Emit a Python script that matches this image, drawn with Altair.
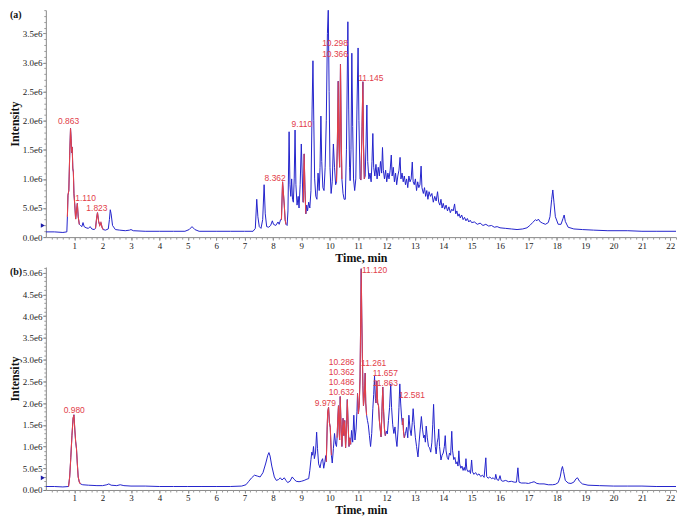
import altair as alt
import pandas as pd

# ---------------- data ----------------
# (time in min, intensity in units of 1e6 counts)
trace_a = [
    (0.00, 0.09), (0.30, 0.09), (0.60, 0.08), (0.74, 0.09),
    (0.76, 0.35), (0.78, 0.72), (0.81, 0.80), (0.84, 1.40), (0.87, 1.87), (0.89, 1.70),
    (0.91, 1.45), (0.93, 1.55), (0.95, 1.18), (0.97, 1.12), (0.99, 0.75), (1.02, 0.55),
    (1.05, 0.31), (1.08, 0.45), (1.11, 0.58), (1.14, 0.35), (1.18, 0.22),
    (1.22, 0.20), (1.27, 0.18), (1.31, 0.25), (1.35, 0.18), (1.42, 0.16), (1.50, 0.15),
    (1.56, 0.18), (1.62, 0.14), (1.70, 0.13),
    (1.75, 0.15), (1.79, 0.33), (1.82, 0.42), (1.86, 0.27), (1.90, 0.20), (1.94, 0.25),
    (1.98, 0.17), (2.02, 0.13),
    (2.10, 0.12), (2.20, 0.14), (2.24, 0.30), (2.27, 0.47), (2.30, 0.40), (2.35, 0.20),
    (2.45, 0.13), (2.60, 0.12), (2.80, 0.11), (2.95, 0.12), (3.00, 0.13), (3.08, 0.11),
    (3.50, 0.10), (4.00, 0.10), (4.50, 0.10), (4.90, 0.10), (5.05, 0.13), (5.15, 0.18),
    (5.25, 0.13), (5.40, 0.10), (6.00, 0.10), (6.50, 0.10), (7.00, 0.10), (7.30, 0.10),
    (7.38, 0.15), (7.43, 0.65), (7.47, 0.35), (7.52, 0.18), (7.58, 0.15), (7.64, 0.30),
    (7.69, 0.90), (7.73, 0.40), (7.78, 0.18), (7.85, 0.17), (7.92, 0.20), (7.98, 0.28),
    (8.02, 0.22), (8.10, 0.20), (8.18, 0.26), (8.22, 0.22), (8.27, 0.30),
    (8.30, 0.30), (8.34, 0.95), (8.37, 0.75), (8.40, 0.55), (8.43, 0.30), (8.46, 0.22),
    (8.50, 0.20), (8.53, 0.45), (8.57, 1.81), (8.60, 0.90), (8.63, 0.70), (8.66, 1.00),
    (8.69, 0.65), (8.72, 0.60), (8.75, 1.00), (8.78, 1.84), (8.81, 0.90), (8.85, 0.55),
    (8.89, 0.70), (8.92, 0.50), (8.96, 0.90), (9.00, 1.60), (9.03, 1.10), (9.06, 0.60),
    (9.07, 0.60), (9.10, 1.43), (9.13, 0.80), (9.16, 0.40),
    (9.19, 0.55), (9.22, 0.45), (9.26, 0.60), (9.30, 0.50), (9.34, 0.80), (9.38, 2.20),
    (9.41, 3.03), (9.44, 2.00), (9.47, 1.00), (9.51, 0.70), (9.55, 0.65), (9.59, 1.10),
    (9.63, 0.80), (9.66, 1.20), (9.69, 2.08), (9.72, 1.30), (9.76, 0.85), (9.80, 0.80),
    (9.84, 1.20), (9.88, 2.00), (9.92, 3.50), (9.95, 3.92), (9.98, 2.50), (10.01, 1.20),
    (10.05, 0.75), (10.09, 0.95), (10.13, 1.60), (10.17, 1.20), (10.21, 0.90),
    (10.24, 0.95), (10.27, 1.60), (10.30, 2.68), (10.32, 1.70), (10.35, 1.20), (10.38, 2.97),
    (10.41, 1.60), (10.43, 1.00),
    (10.47, 0.75), (10.51, 0.65), (10.55, 0.65), (10.59, 1.50), (10.64, 3.70), (10.67, 2.20),
    (10.70, 1.20), (10.72, 0.97), (10.75, 1.50), (10.78, 3.16), (10.81, 1.90), (10.84, 1.00),
    (10.88, 0.80), (10.92, 1.00), (10.96, 2.20), (11.00, 3.25), (11.03, 2.00), (11.07, 1.00),
    (11.10, 0.98), (11.14, 1.90), (11.17, 2.67), (11.19, 1.60), (11.22, 1.00),
    (11.25, 1.05), (11.28, 1.60), (11.31, 2.27), (11.34, 1.30), (11.38, 1.00), (11.42, 1.10),
    (11.46, 0.95), (11.49, 1.30), (11.52, 1.78), (11.55, 1.20), (11.59, 1.05), (11.63, 1.25),
    (11.67, 1.00), (11.71, 1.20), (11.75, 1.05), (11.79, 1.30), (11.83, 1.10), (11.86, 1.54),
    (11.89, 1.15), (11.93, 1.00), (11.97, 1.15), (12.01, 0.95), (12.05, 1.10), (12.09, 1.00),
    (12.13, 1.15), (12.17, 1.41), (12.20, 1.05), (12.24, 1.20), (12.28, 0.95), (12.32, 1.10),
    (12.36, 0.90), (12.40, 1.05), (12.44, 1.15), (12.48, 1.37), (12.51, 1.00), (12.55, 1.10),
    (12.59, 0.95), (12.63, 1.05), (12.67, 0.90), (12.71, 1.00), (12.75, 0.85), (12.79, 1.05),
    (12.83, 0.95), (12.87, 1.00), (12.91, 1.29), (12.94, 0.95), (12.98, 0.90), (13.02, 1.00),
    (13.06, 0.80), (13.10, 0.95), (13.14, 0.85), (13.18, 0.90), (13.22, 1.22), (13.25, 0.85),
    (13.30, 0.75), (13.34, 0.85), (13.38, 0.70), (13.42, 0.80), (13.46, 0.65), (13.50, 0.78),
    (13.55, 0.70), (13.60, 0.75), (13.65, 0.60), (13.70, 0.70), (13.75, 0.62), (13.80, 0.78),
    (13.84, 0.60), (13.88, 0.55), (13.92, 0.65), (13.96, 0.50), (14.00, 0.58), (14.05, 0.48),
    (14.10, 0.55), (14.15, 0.45), (14.20, 0.52), (14.25, 0.42), (14.30, 0.48), (14.35, 0.45),
    (14.40, 0.57), (14.44, 0.40), (14.48, 0.45), (14.52, 0.36), (14.56, 0.40), (14.60, 0.33),
    (14.65, 0.38), (14.70, 0.30), (14.75, 0.34), (14.80, 0.28), (14.85, 0.32), (14.90, 0.26),
    (14.95, 0.29), (15.00, 0.25), (15.10, 0.26), (15.20, 0.22), (15.30, 0.24), (15.40, 0.20),
    (15.50, 0.22), (15.60, 0.19), (15.70, 0.20), (15.80, 0.17), (15.90, 0.18), (16.00, 0.16),
    (16.20, 0.15), (16.40, 0.14), (16.60, 0.13), (16.80, 0.14), (16.95, 0.16), (17.05, 0.20),
    (17.15, 0.25), (17.25, 0.30), (17.30, 0.28), (17.35, 0.31), (17.42, 0.26), (17.50, 0.24),
    (17.60, 0.22), (17.70, 0.25), (17.76, 0.35), (17.82, 0.65), (17.86, 0.81), (17.90, 0.60),
    (17.95, 0.35), (18.05, 0.22), (18.15, 0.22), (18.22, 0.32), (18.26, 0.38), (18.30, 0.27),
    (18.40, 0.17), (18.60, 0.14), (18.90, 0.13), (19.30, 0.12), (19.80, 0.11), (20.50, 0.11),
    (21.00, 0.10), (21.50, 0.10), (22.20, 0.10),
]

trace_b = [
    (0.00, 0.08), (0.30, 0.08), (0.60, 0.07), (0.80, 0.08),
    (0.84, 0.30), (0.88, 0.75), (0.92, 1.25), (0.96, 1.65), (0.99, 1.73), (1.02, 1.40),
    (1.05, 1.12), (1.08, 0.95), (1.11, 0.60), (1.14, 0.30), (1.18, 0.18), (1.22, 0.14),
    (1.30, 0.12), (1.50, 0.11), (1.80, 0.10), (2.00, 0.10), (2.15, 0.12), (2.22, 0.14),
    (2.30, 0.11), (2.50, 0.10), (2.62, 0.12), (2.75, 0.10), (3.00, 0.09), (3.50, 0.09),
    (4.00, 0.08), (4.50, 0.08), (5.00, 0.08), (5.50, 0.08), (6.00, 0.08), (6.50, 0.08),
    (6.90, 0.09), (7.05, 0.12), (7.15, 0.20), (7.25, 0.28), (7.35, 0.34), (7.45, 0.32),
    (7.55, 0.30), (7.65, 0.40), (7.75, 0.62), (7.82, 0.80), (7.86, 0.86), (7.90, 0.78),
    (7.96, 0.55), (8.05, 0.30), (8.12, 0.22), (8.20, 0.24), (8.26, 0.28), (8.32, 0.23),
    (8.40, 0.28), (8.46, 0.22), (8.52, 0.17), (8.60, 0.20), (8.68, 0.30), (8.74, 0.25),
    (8.82, 0.20), (8.92, 0.19), (9.00, 0.20), (9.10, 0.22), (9.20, 0.25), (9.26, 0.26),
    (9.30, 0.45), (9.34, 0.70), (9.37, 0.87), (9.40, 0.80), (9.43, 1.00), (9.46, 0.72),
    (9.50, 0.85), (9.54, 1.33), (9.57, 0.95), (9.61, 0.60), (9.66, 0.51), (9.70, 0.65),
    (9.75, 0.72), (9.79, 0.50), (9.83, 0.65), (9.86, 0.79),
    (9.88, 0.65), (9.91, 1.40), (9.93, 1.80), (9.96, 1.90), (9.99, 1.55), (10.02, 1.44),
    (10.04, 1.10), (10.06, 0.80),
    (10.09, 0.62), (10.13, 0.95), (10.17, 1.30), (10.21, 1.05), (10.24, 1.00),
    (10.26, 1.20), (10.29, 1.70), (10.31, 1.94), (10.33, 1.40), (10.35, 1.15), (10.37, 2.15),
    (10.40, 1.50), (10.43, 1.00), (10.45, 1.30), (10.47, 1.65), (10.50, 1.25), (10.53, 1.60),
    (10.56, 0.97), (10.59, 1.40), (10.62, 2.08), (10.65, 1.50), (10.68, 1.00), (10.71, 1.20),
    (10.74, 1.05),
    (10.77, 1.37), (10.81, 1.10), (10.85, 1.72), (10.89, 1.15), (10.93, 1.40), (10.96, 1.80),
    (10.98, 2.22), (11.01, 1.75), (11.04, 1.94), (11.07, 2.60), (11.09, 3.80), (11.11, 5.09),
    (11.13, 4.00), (11.15, 3.15), (11.17, 2.40), (11.19, 1.94), (11.21, 2.10), (11.23, 2.30),
    (11.25, 2.69), (11.27, 2.00), (11.30, 1.72),
    (11.33, 1.60), (11.36, 1.50), (11.40, 1.25), (11.44, 1.00), (11.48, 1.30), (11.52, 1.87),
    (11.55, 2.20), (11.58, 2.62), (11.61, 2.10),
    (11.63, 2.00), (11.66, 2.51), (11.69, 2.00), (11.72, 1.94), (11.75, 1.60), (11.78, 1.40),
    (11.81, 1.22), (11.84, 1.80), (11.87, 2.37), (11.90, 1.80), (11.93, 1.40), (11.96, 1.25),
    (12.00, 1.35), (12.03, 1.29), (12.07, 1.60), (12.11, 1.90), (12.15, 2.44), (12.18, 1.90),
    (12.22, 1.50), (12.26, 1.30), (12.30, 1.45), (12.34, 1.15), (12.37, 1.00), (12.41, 1.40),
    (12.44, 1.90), (12.47, 2.44), (12.50, 2.00), (12.53, 1.70),
    (12.56, 1.50), (12.58, 1.65), (12.60, 1.35), (12.63, 1.20),
    (12.67, 1.30), (12.71, 1.44), (12.75, 1.20), (12.79, 1.72), (12.83, 1.40), (12.87, 1.25),
    (12.91, 1.55), (12.94, 1.87), (12.98, 1.50), (13.02, 1.20), (13.06, 1.00), (13.11, 0.76),
    (13.15, 1.10), (13.19, 1.40), (13.23, 1.69), (13.27, 1.40), (13.31, 1.20), (13.34, 1.26),
    (13.37, 1.10), (13.40, 1.47), (13.44, 1.20), (13.48, 1.00), (13.52, 0.97), (13.56, 0.87),
    (13.60, 1.10), (13.63, 1.50), (13.66, 1.97), (13.69, 1.40), (13.72, 1.00), (13.75, 0.83),
    (13.79, 1.10), (13.82, 1.20), (13.84, 1.40), (13.87, 1.00), (13.92, 0.69), (13.96, 0.80),
    (14.00, 0.85), (14.04, 1.00), (14.07, 1.25), (14.10, 0.90), (14.14, 0.75), (14.18, 0.70),
    (14.22, 0.85), (14.26, 0.80), (14.30, 1.35), (14.33, 0.90), (14.37, 0.70), (14.41, 0.75),
    (14.45, 0.60), (14.49, 0.65), (14.52, 0.55), (14.55, 0.90), (14.58, 0.60), (14.62, 0.50),
    (14.66, 0.55), (14.70, 0.45), (14.74, 0.52), (14.77, 0.45), (14.80, 0.72), (14.83, 0.48),
    (14.87, 0.42), (14.92, 0.45), (14.96, 0.38), (15.00, 0.69), (15.03, 0.42), (15.08, 0.36),
    (15.14, 0.40), (15.20, 0.34), (15.26, 0.37), (15.32, 0.31), (15.38, 0.34), (15.44, 0.29),
    (15.50, 0.74), (15.53, 0.31), (15.58, 0.27), (15.64, 0.30), (15.70, 0.26), (15.76, 0.28),
    (15.82, 0.24), (15.85, 0.36), (15.89, 0.24), (15.95, 0.22), (16.00, 0.33), (16.04, 0.22),
    (16.10, 0.20), (16.20, 0.22), (16.30, 0.19), (16.40, 0.20), (16.50, 0.18), (16.58, 0.18),
    (16.63, 0.51), (16.67, 0.18), (16.75, 0.16), (16.90, 0.16), (17.00, 0.15), (17.10, 0.17),
    (17.20, 0.19), (17.30, 0.15), (17.40, 0.14), (17.55, 0.14), (17.70, 0.12), (17.85, 0.12),
    (17.95, 0.13), (18.05, 0.17), (18.12, 0.30), (18.17, 0.48), (18.20, 0.54), (18.24, 0.42),
    (18.30, 0.22), (18.40, 0.16), (18.50, 0.15), (18.60, 0.18), (18.68, 0.26), (18.73, 0.28),
    (18.80, 0.20), (18.90, 0.14), (19.10, 0.11), (19.50, 0.10), (20.00, 0.09), (20.50, 0.09),
    (21.00, 0.09), (21.50, 0.08), (22.20, 0.08),
]

# highlighted (red) retention-time windows
red_ranges_a = [(0.75, 1.19), (1.74, 2.03), (8.29, 8.47), (9.065, 9.17), (10.235, 10.435), (11.095, 11.225)]
red_ranges_b = [(0.79, 1.23), (9.875, 10.065), (10.255, 10.745), (10.975, 11.305), (11.625, 11.965), (12.555, 12.635)]

# peak labels: text, time position, intensity position (1e6)
labels_a_text = ["0.863", "1.110", "1.823", "8.362", "9.110", "10.298", "10.366", "11.145"]
labels_a_t = [0.80, 1.40, 1.80, 8.08, 9.02, 10.19, 10.19, 11.45]
labels_a_i = [1.99, 0.68, 0.50, 1.02, 1.94, 3.34, 3.15, 2.74]

labels_b_text = ["0.980", "9.979", "10.286", "10.362", "10.486", "10.632",
                 "11.120", "11.261", "11.657", "11.863", "12.581"]
labels_b_t = [1.00, 9.85, 10.42, 10.42, 10.42, 10.42, 11.58, 11.55, 11.96, 11.96, 12.90]
labels_b_i = [1.84, 2.00, 2.94, 2.71, 2.49, 2.26, 5.06, 2.91, 2.70, 2.47, 2.19]

y_ticks_a = [0.0, 0.5, 1.0, 1.5, 2.0, 2.5, 3.0, 3.5]
y_ticks_b = [0.0, 0.5, 1.0, 1.5, 2.0, 2.5, 3.0, 3.5, 4.0, 4.5, 5.0]
x_ticks = list(range(1, 23))
x_minor_step = 0.2      # minor tick spacing on the time axis (min)
y_minor_step = 0.1      # minor tick spacing on the intensity axis (1e6)
marker_a = [0.20]
marker_b = [0.28]

BLUE = "#2323cc"
RED = "#e2404a"
SERIF = "Liberation Serif"
W = 633
XMAX = 22.2


def trace_frame(trace, ranges):
    rows = []
    for t, v in trace:
        seg = -1
        for k, (a, b) in enumerate(ranges):
            if a <= t <= b:
                seg = k
        rows.append({"t": t, "i": v * 1e6, "seg": seg})
    return pd.DataFrame(rows)


def panel(trace, ranges, ltext, lt, li, yticks, ymax, marker, letter, height):
    df = trace_frame(trace, ranges)
    lab = pd.DataFrame({"txt": ltext, "t": lt, "i": [v * 1e6 for v in li]})
    xscale = alt.Scale(domain=[0, XMAX], nice=False, zero=False)
    yscale = alt.Scale(domain=[0, ymax * 1e6], nice=False)
    xenc = alt.X("t:Q", scale=xscale,
                 axis=alt.Axis(values=x_ticks, title="Time, min", format="d", orient="bottom",
                               labelOverlap=False, labelFlush=False,
                               labelFont=SERIF, labelFontSize=9, labelColor="#222",
                               titleFont=SERIF, titleFontSize=12, titleFontWeight="bold",
                               titleColor="#111", titlePadding=2, labelPadding=1,
                               tickSize=3, tickColor="#777", domainColor="#888", grid=False))
    yenc = alt.Y("i:Q", scale=yscale,
                 axis=alt.Axis(values=[v * 1e6 for v in yticks], orient="left",
                               labelExpr="replace(format(datum.value, '.1e'), '+', '')",
                               labelOverlap=False, labelFlush=False,
                               title="Intensity", labelFont=SERIF, labelFontSize=9,
                               labelColor="#222", titleFont=SERIF, titleFontSize=12,
                               titleFontWeight="bold", titleColor="#111", titlePadding=1,
                               labelPadding=1, tickSize=3, tickColor="#777",
                               domainColor="#888", grid=False))
    xn = alt.X("t:Q", scale=xscale, axis=None)
    yn = alt.Y("i:Q", scale=yscale, axis=None)

    nx = int(round(XMAX / x_minor_step))
    ny = int(round(ymax / y_minor_step))
    minor_x_vals = [round(k * x_minor_step, 2) for k in range(1, nx + 1)]
    minor_y_vals = [round(k * y_minor_step, 2) * 1e6 for k in range(1, ny + 1)]
    xm = alt.X("t:Q", scale=xscale,
               axis=alt.Axis(values=minor_x_vals, labels=False, domain=False, ticks=True,
                             tickSize=2, tickColor="#999", grid=False, title="",
                             orient="bottom"))
    ym = alt.Y("i:Q", scale=yscale,
               axis=alt.Axis(values=minor_y_vals, labels=False, domain=False, ticks=True,
                             tickSize=2, tickColor="#999", grid=False, title="",
                             orient="left"))

    blue = alt.Chart(df).mark_line(color=BLUE, strokeWidth=1, clip=True).encode(x=xenc, y=yenc)
    minor = alt.Chart(pd.DataFrame({"t": [0.0], "i": [0.0]})).mark_point(opacity=0).encode(
        x=xm, y=ym)
    red = alt.Chart(df).transform_filter("datum.seg >= 0").mark_line(
        color=RED, strokeWidth=1.1, clip=True).encode(x=xn, y=yn, detail="seg:N")
    text = alt.Chart(lab).mark_text(font="Liberation Sans", fontSize=8.5, color=RED,
                                    align="center", baseline="middle").encode(
        x=xn, y=yn, text="txt:N")
    mk = alt.Chart(pd.DataFrame({"t": [0.0], "i": [marker[0] * 1e6]})).mark_point(
        shape="triangle-right", filled=True, size=22, color="#1a1aa8", opacity=1,
        xOffset=-3).encode(x=xn, y=yn)
    let = alt.Chart(pd.DataFrame({"s": [letter]})).mark_text(
        font=SERIF, fontSize=10, fontWeight="bold", color="#111", align="left",
        baseline="top").encode(x=alt.value(-36), y=alt.value(0), text="s:N")
    return alt.layer(blue, minor, red, text, mk, let).resolve_axis(
        x="independent", y="independent").properties(width=W, height=height)


top = panel(trace_a, red_ranges_a, labels_a_text, labels_a_t, labels_a_i,
            y_ticks_a, 3.9, marker_a, "(a)", 228)
bottom = panel(trace_b, red_ranges_b, labels_b_text, labels_b_t, labels_b_i,
               y_ticks_b, 5.13, marker_b, "(b)", 224)

chart = alt.vconcat(top, bottom, spacing=3).properties(padding=0).configure_view(
    stroke=None, strokeWidth=0).configure_axis(labelOverlap=False)

chart.save("out.html", embed_options={"renderer": "svg", "actions": False})
